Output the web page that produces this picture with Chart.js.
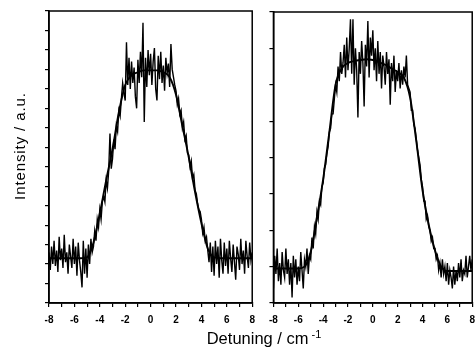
<!DOCTYPE html>
<html lang="en">
<head>
<meta charset="UTF-8">
<title>Detuning spectra</title>
<script src="https://cdn.jsdelivr.net/npm/chart.js"></script>
<style>
  html, body { margin: 0; padding: 0; width: 475px; height: 349px; overflow: hidden; background: #fff; }
  .panel { position: absolute; top: 0; height: 349px; }
  #leftBox { left: 0; width: 262px; }
  #rightBox { left: 262px; width: 220px; }
  #xTitle {
    position: absolute; left: 164px; width: 200px; top: 330px;
    text-align: center; font: 16.5px "Liberation Sans", Arial, sans-serif;
    line-height: 16.5px; color: #000; white-space: nowrap;
  }
  #xTitle sup { font-size: 11px; margin-left: 3px; vertical-align: 6px; line-height: 0; }
  #yTitle {
    position: absolute; left: -40px; top: 138px; width: 120px; height: 16px;
    text-align: center; font: 15px "Liberation Sans", Arial, sans-serif;
    line-height: 16px; letter-spacing: 0.9px; color: #000; white-space: nowrap;
    transform: rotate(-90deg); transform-origin: 50% 50%;
  }
</style>
</head>
<body>

<div id="leftBox" class="panel"><canvas id="leftChart"></canvas></div>
<div id="rightBox" class="panel"><canvas id="rightChart"></canvas></div>
<div id="yTitle">Intensity / a.u.</div>
<div id="xTitle">Detuning / cm<sup>-1</sup></div>

<script>
// detuning grid of the measured spectra (cm^-1)
const detuning = [
  -8.0, -7.9, -7.8, -7.7, -7.6, -7.5, -7.4, -7.3, -7.2, -7.1,
  -7.0, -6.9, -6.8, -6.7, -6.6, -6.5, -6.4, -6.3, -6.2, -6.1,
  -6.0, -5.9, -5.8, -5.7, -5.6, -5.5, -5.4, -5.3, -5.2, -5.1,
  -5.0, -4.9, -4.8, -4.7, -4.6, -4.5, -4.4, -4.3, -4.2, -4.1,
  -4.0, -3.9, -3.8, -3.7, -3.6, -3.5, -3.4, -3.3, -3.2, -3.1,
  -3.0, -2.9, -2.8, -2.7, -2.6, -2.5, -2.4, -2.3, -2.2, -2.1,
  -2.0, -1.9, -1.8, -1.7, -1.6, -1.5, -1.4, -1.3, -1.2, -1.1,
  -1.0, -0.9, -0.8, -0.7, -0.6, -0.5, -0.4, -0.3, -0.2, -0.1,
  0.0, 0.1, 0.2, 0.3, 0.4, 0.5, 0.6, 0.7, 0.8, 0.9,
  1.0, 1.1, 1.2, 1.3, 1.4, 1.5, 1.6, 1.7, 1.8, 1.9,
  2.0, 2.1, 2.2, 2.3, 2.4, 2.5, 2.6, 2.7, 2.8, 2.9,
  3.0, 3.1, 3.2, 3.3, 3.4, 3.5, 3.6, 3.7, 3.8, 3.9,
  4.0, 4.1, 4.2, 4.3, 4.4, 4.5, 4.6, 4.7, 4.8, 4.9,
  5.0, 5.1, 5.2, 5.3, 5.4, 5.5, 5.6, 5.7, 5.8, 5.9,
  6.0, 6.1, 6.2, 6.3, 6.4, 6.5, 6.6, 6.7, 6.8, 6.9,
  7.0, 7.1, 7.2, 7.3, 7.4, 7.5, 7.6, 7.7, 7.8, 7.9,
  8.0
];

// left spectrum, measured (a.u.)
const leftSignal = [
  2.6, 1.7, 2.9, 2.0, 3.2, 1.9, 2.7, 1.6, 3.4, 2.2,
  2.8, 1.8, 3.5, 2.1, 2.6, 1.5, 3.0, 2.4, 1.8, 3.3,
  2.0, 2.9, 1.4, 3.1, 2.2, 1.6, 0.8, 3.2, 1.5, 2.8,
  1.3, 3.0, 2.0, 3.3, 2.6, 2.9, 3.7, 3.2, 4.3, 3.9,
  4.8, 4.3, 5.2, 5.5, 5.2, 6.3, 5.9, 6.8, 8.7, 6.9,
  7.4, 8.4, 7.9, 9.1, 8.8, 9.9, 9.6, 10.5, 11.3, 10.8,
  10.4, 13.4, 11.2, 12.6, 11.0, 12.4, 11.3, 12.1, 10.6, 10.0,
  12.5, 11.3, 12.9, 11.6, 14.4, 9.3, 12.6, 11.1, 13.0, 11.7,
  12.8, 11.2, 12.4, 13.1, 11.0, 10.4, 12.7, 11.5, 12.9, 11.3,
  12.2, 10.9, 12.6, 11.8, 12.3, 11.1, 13.3, 12.0, 11.6, 11.2,
  10.9, 10.2, 10.5, 9.7, 9.9, 9.0, 9.3, 8.4, 8.6, 7.7,
  7.6, 7.0, 7.3, 6.4, 6.6, 5.8, 5.6, 5.1, 4.8, 4.7,
  4.3, 3.6, 3.9, 3.2, 3.4, 2.7, 2.1, 3.1, 1.6, 2.9,
  1.4, 3.2, 2.0, 2.9, 1.3, 3.3, 2.2, 1.5, 3.1, 1.9,
  2.8, 1.5, 3.2, 2.3, 1.6, 3.0, 2.1, 1.2, 2.9, 2.5,
  1.7, 3.3, 2.0, 2.7, 1.5, 3.2, 2.4, 1.8, 3.1, 2.2,
  2.6
];

// right spectrum, measured (a.u.)
const rightSignal = [
  0.4, 1.3, 0.8, 1.5, 0.6, 1.1, 0.5, 1.4, 0.9, 0.7,
  1.5, 0.8, 1.2, 0.5, 1.1, 0.15, 1.3, 0.7, 1.2, 0.5,
  1.0, 0.6, 1.4, 0.9, 0.4, 1.2, 1.0, 1.5, 0.8, 1.3,
  1.2, 1.8, 1.5, 2.1, 1.9, 2.5, 2.3, 2.8, 2.7, 3.2,
  3.3, 3.7, 3.8, 4.1, 4.3, 4.7, 4.8, 5.2, 5.2, 5.6,
  6.0, 5.8, 6.5, 6.1, 6.9, 6.3, 6.6, 7.1, 6.2, 7.3,
  6.4, 7.0, 7.8, 6.3, 7.8, 6.0, 7.0, 6.4, 5.1, 6.9,
  6.3, 7.2, 6.6, 5.4, 7.1, 6.5, 7.75, 6.2, 7.3, 6.8,
  7.5, 6.4, 7.0, 6.1, 7.2, 6.3, 6.9, 5.9, 6.8, 6.5,
  6.0, 6.9, 6.3, 6.7, 5.45, 6.6, 6.1, 6.8, 5.8, 6.4,
  6.1, 6.6, 5.9, 6.4, 6.0, 6.5, 6.2, 6.8, 6.0, 5.9,
  5.8, 5.3, 5.3, 4.9, 4.8, 4.5, 4.2, 4.0, 3.8, 3.4,
  3.2, 2.8, 2.8, 2.3, 2.4, 2.1, 2.0, 1.7, 1.8, 1.5,
  1.5, 1.2, 1.3, 0.9, 1.1, 0.7, 1.2, 0.8, 1.0, 0.6,
  1.1, 0.5, 0.9, 0.7, 0.4, 1.0, 0.5, 0.9, 0.6, 1.1,
  0.7, 1.2, 0.6, 0.9, 0.8, 1.3, 0.7, 1.0, 1.3, 0.9,
  1.2
];

// fitted profiles
const fitDetuning = [
  -8, -7.5, -7, -6.5, -6, -5.5, -5, -4.5, -4, -3.5, -3, -2.5, -2, -1.5, -1, -0.5,
  0, 0.5, 1, 1.5, 2, 2.5, 3, 3.5, 4, 4.5, 5, 5.5, 6, 6.5, 7, 7.5, 8
];
const leftFit = [
  2.3, 2.3, 2.3, 2.3, 2.3, 2.3, 2.35, 3.1, 4.6, 6.3, 7.9, 9.8, 11.2, 11.7, 11.85, 11.95,
  11.95, 11.95, 11.85, 11.6, 10.7, 9.1, 7.5, 5.7, 4.1, 2.8, 2.35, 2.3, 2.3, 2.3, 2.3, 2.3, 2.3
];
const rightFit = [
  0.95, 0.95, 0.95, 0.95, 0.95, 1.0, 1.4, 2.35, 3.4, 4.7, 6.0, 6.45, 6.6, 6.65, 6.68, 6.7,
  6.68, 6.62, 6.55, 6.45, 6.35, 6.2, 5.65, 4.45, 3.1, 2.15, 1.45, 1.0, 0.88, 0.88, 0.88, 0.88, 0.88
];

const xTickLabels = ['-8', '-6', '-4', '-2', '0', '2', '4', '6', '8'];

const toPoints = (xs, ys) => xs.map((x, i) => ({ x: x, y: ys[i] }));

// draws the closed box round the plot area
const framePlugin = {
  id: 'frame',
  afterDraw(chart) {
    const a = chart.chartArea;
    const c = chart.ctx;
    c.save();
    c.strokeStyle = '#000';
    c.lineWidth = 1.5;
    c.strokeRect(a.left, a.top, a.right - a.left, a.bottom - a.top);
    c.restore();
  }
};

function makePanel(canvasId, signal, fit, yMax, padTop, yWidth, padRight) {
  const ctx = document.getElementById(canvasId).getContext('2d');
  return new Chart(ctx, {
    type: 'line',
    data: {
      datasets: [{
        data: toPoints(detuning, signal),
        borderColor: '#000',
        borderWidth: 1.4,
        pointRadius: 0,
        tension: 0
      }, {
        data: toPoints(fitDetuning, fit),
        borderColor: '#000',
        borderWidth: 1.9,
        pointRadius: 0,
        cubicInterpolationMode: 'monotone'
      }]
    },
    options: {
      responsive: true,
      maintainAspectRatio: false,
      animation: false,
      layout: { padding: { left: 0, top: padTop, right: padRight, bottom: 0 } },
      plugins: { legend: { display: false }, tooltip: { enabled: false } },
      scales: {
        x: {
          type: 'linear',
          min: -8,
          max: 8,
          afterFit: s => { s.height = 46; },
          grid: { drawOnChartArea: false, drawTicks: true, tickLength: 4, color: '#000', lineWidth: 1.2 },
          border: { display: true, color: '#000', width: 1.5 },
          ticks: {
            stepSize: 1,
            autoSkip: false,
            maxRotation: 0,
            padding: 7,
            color: '#000',
            font: { family: '"Liberation Sans", Arial, sans-serif', size: 10, weight: 'bold' },
            callback: v => xTickLabels.includes(String(v)) ? String(v) : ''
          }
        },
        y: {
          min: 0,
          max: yMax,
          afterFit: s => { s.width = yWidth; },
          grid: { drawOnChartArea: false, drawTicks: true, tickLength: 4, color: '#000', lineWidth: 1.2 },
          border: { display: true, color: '#000', width: 1.5 },
          ticks: { stepSize: 1, display: false }
        }
      }
    },
    plugins: [framePlugin]
  });
}

makePanel('leftChart', leftSignal, leftFit, 15, 11, 49, 6);
makePanel('rightChart', rightSignal, rightFit, 8, 12, 7, 6.6);
</script>
</body>
</html>
